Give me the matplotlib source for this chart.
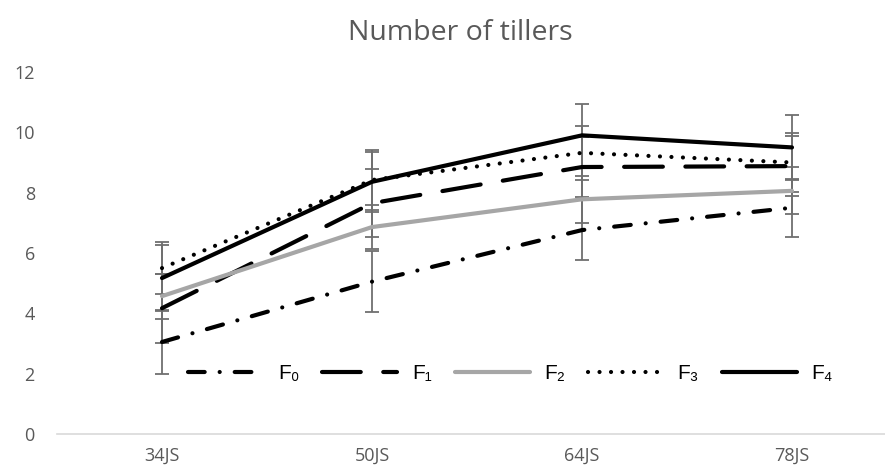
import matplotlib.pyplot as plt
from matplotlib.font_manager import FontProperties

# stages (days after sowing) and mean tiller counts per fertiliser level
stages = ['34JS', '50JS', '64JS', '78JS']
f0 = [3.05, 5.05, 6.76, 7.50]
f1 = [4.17, 7.65, 8.85, 8.88]
f2 = [4.57, 6.86, 7.78, 8.06]
f3 = [5.50, 8.42, 9.32, 9.00]
f4 = [5.17, 8.36, 9.90, 9.50]

# standard deviations
f0_err = [1.05, 1.00, 0.99, 0.96]
f1_err = [1.15, 1.12, 1.00, 1.00]
f2_err = [0.75, 0.73, 0.77, 0.78]
f3_err = [0.87, 1.01, 0.89, 0.99]
f4_err = [1.09, 1.00, 1.05, 1.07]

labels = ['F₀', 'F₁', 'F₂', 'F₃', 'F₄']

W, H = 885, 467
fig = plt.figure(figsize=(W / 100, H / 100), dpi=100)
# plot area runs past the right edge, like the original sheet export
ax = fig.add_axes([57 / W, (H - 434) / H, 840 / W, 362 / H])

x = range(len(stages))
styles = [
    dict(color='black', dashes=(4, 3.6, 0.01, 3.6)),
    dict(color='black', dashes=(9.3, 5.4)),
    dict(color='#a6a6a6'),
    dict(color='black', dashes=(0.01, 2.75)),
    dict(color='black'),
]
series = [f0, f1, f2, f3, f4]
errs = [f0_err, f1_err, f2_err, f3_err, f4_err]

handles = []
for y, e, st, lab in zip(series, errs, styles, labels):
    ax.errorbar(x, y, yerr=e, fmt='none', ecolor='#6f6f6f', elinewidth=1.3,
                capsize=4.8, capthick=1.3, zorder=2)
    ln, = ax.plot(x, y, lw=3, label=lab, zorder=3, solid_capstyle='round',
                  dash_capstyle='round', **st)
    handles.append(ln)

ax.set_xlim(-0.5, 3.5)
ax.set_ylim(0, 12)
ax.set_xticks(list(x))
ax.set_xticklabels(stages)
ax.set_yticks(range(0, 13, 2))

for s in ['top', 'right', 'left']:
    ax.spines[s].set_visible(False)
ax.spines['bottom'].set_color('#d9d9d9')
ax.spines['bottom'].set_linewidth(1.2)
ax.tick_params(length=0, labelsize=13, labelcolor='#595959')
ax.tick_params(axis='y', pad=16)
ax.tick_params(axis='x', pad=9)
for t in ax.get_xticklabels() + ax.get_yticklabels():
    t.set_family('Open Sans')

fig.text(0.52, 0.929, 'Number of tillers', ha='center', va='center',
         fontsize=20.5, color='#595959', family='Open Sans')

leg_font = FontProperties(family=['Liberation Sans', 'DejaVu Sans'], size=15)
ax.legend(handles=handles, loc='center', bbox_to_anchor=(0.54, 0.166), ncol=5,
          frameon=False, prop=leg_font, handlelength=3.6, handletextpad=0.7,
          columnspacing=1.1)

fig.savefig('out.png', dpi=100)
